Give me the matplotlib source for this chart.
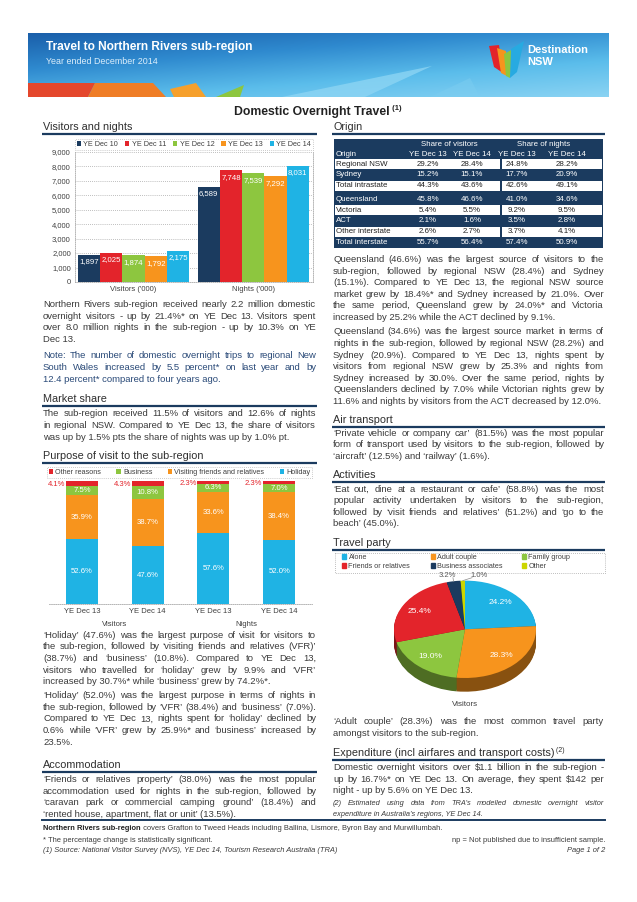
import matplotlib
matplotlib.use('Agg')
import matplotlib.pyplot as plt
import numpy as np
from matplotlib.patches import Rectangle, Polygon, Patch
from matplotlib.colors import LinearSegmentedColormap, to_rgb

plt.rcParams['font.family'] = ['Liberation Sans', 'DejaVu Sans']

# ---------------- data ----------------
years = ['YE Dec 10', 'YE Dec 11', 'YE Dec 12', 'YE Dec 13', 'YE Dec 14']
vn_groups = ["Visitors ('000)", "Nights ('000)"]
visitors_000 = [1897, 2025, 1874, 1792, 2175]
nights_000 = [6589, 7748, 7539, 7292, 8031]
vn_ticks = [0, 1000, 2000, 3000, 4000, 5000, 6000, 7000, 8000, 9000]

origin_names = ['Regional NSW', 'Sydney', 'Total intrastate', 'Queensland',
                'Victoria', 'ACT', 'Other interstate', 'Total interstate']
share_vis_13 = [29.2, 15.2, 44.3, 45.8, 5.4, 2.1, 2.6, 55.7]
share_vis_14 = [28.4, 15.1, 43.6, 46.6, 5.5, 1.6, 2.7, 56.4]
share_ngt_13 = [24.8, 17.7, 42.6, 41.0, 9.2, 3.5, 3.7, 57.4]
share_ngt_14 = [28.2, 20.9, 49.1, 34.6, 9.5, 2.8, 4.1, 50.9]
table_cols = ['YE Dec 13', 'YE Dec 14', 'YE Dec 13', 'YE Dec 14']

purpose_ticks = ['YE Dec 13', 'YE Dec 14', 'YE Dec 13', 'YE Dec 14']
purpose_groups = ['Visitors', 'Nights']
holiday = [52.6, 47.6, 57.6, 52.0]
vfr = [35.9, 38.7, 33.6, 38.4]
business = [7.5, 10.8, 6.3, 7.0]
other_reasons = [4.1, 4.3, 2.3, 2.3]

party_labels = ['Alone', 'Adult couple', 'Family group', 'Friends or relatives',
                'Business associates', 'Other']
party_share = [24.2, 28.3, 19.0, 25.4, 3.2, 1.0]

# ---------------- style ----------------
NAVY = '#1B3B5F'
RED = '#E3242B'
GREEN = '#8DC63F'
ORANGE = '#F7941D'
CYAN = '#1FB3E4'
LIME = '#CCD600'
TXT = '#3A3A3A'
HEAD = '#2E2E2E'
year_colors = [NAVY, RED, GREEN, ORANGE, CYAN]
party_colors = [CYAN, ORANGE, GREEN, RED, NAVY, LIME]

W, H = 637, 902
fig = plt.figure(figsize=(W / 100, H / 100), dpi=100)
page = fig.add_axes([0, 0, 1, 1], zorder=0)
page.set_xlim(0, W)
page.set_ylim(H, 0)
page.axis('off')
renderer = fig.canvas.get_renderer()


def ax_rect(x0, y0, x1, y1):
    return [x0 / W, 1 - y1 / H, (x1 - x0) / W, (y1 - y0) / H]


def measure(s, **kw):
    t = page.text(0, 0, s, **kw)
    w = t.get_window_extent(renderer).width
    t.remove()
    return w


def para(lines, x0, x1, y0, dy, fs, color=TXT, style='normal', justify=True):
    kw = dict(fontsize=fs, color=color, style=style, va='center', ha='left')
    width = x1 - x0
    for i, line in enumerate(lines):
        y = y0 + i * dy
        words = line.split(' ')
        if (not justify) or i == len(lines) - 1 or len(words) < 2:
            page.text(x0, y, line, **kw)
            continue
        wl = [measure(w, **kw) for w in words]
        gap = (width - sum(wl)) / (len(words) - 1)
        cx = x0
        for w, wd in zip(words, wl):
            page.text(cx, y, w, **kw)
            cx += wd + gap


def runs(x, y, parts, ha='left'):
    widths = [measure(s, **kw) for s, kw in parts]
    cx = x if ha == 'left' else x - sum(widths) / 2
    for (s, kw), wd in zip(parts, widths):
        page.text(cx, y, s, va=kw.pop('va', 'center'), ha='left', **kw)
        cx += wd


def heading(txt, x0, x1, y, uy, sup=None):
    if sup:
        runs(x0, y, [(txt, dict(fontsize=7.8, color=HEAD)),
                     (' ' + sup, dict(fontsize=5, color=HEAD, va='bottom'))])
    else:
        page.text(x0, y, txt, fontsize=7.8, color=HEAD, va='center', ha='left')
    page.plot([x0 - 1, x1 + 1], [uy, uy], color=NAVY, lw=1.6, solid_capstyle='butt')


def dotted_frame(leg):
    leg.get_frame().set_linestyle((0, (1, 1.5)))
    leg.get_frame().set_edgecolor('#A8A8A8')
    leg.get_frame().set_linewidth(0.6)


# ---------------- banner ----------------
u = np.linspace(0, 1, 200)[None, :]
v = np.linspace(0, 1, 60)[:, None]
grad = 0.65 * v + 0.45 * u
cmap = LinearSegmentedColormap.from_list('b', ['#1A5FAA', '#2F8ACF', '#5BBDEB', '#8AD3F3'])
page.imshow(grad, extent=[28, 609, 97, 33], cmap=cmap, aspect='auto', zorder=1,
            interpolation='bilinear', vmin=0, vmax=1.1)
page.set_xlim(0, W)
page.set_ylim(H, 0)
deco = [
    ([(28, 83), (95, 83), (88, 97), (28, 97)], '#E4472C', 1),
    ([(95, 83), (153, 83), (166, 97), (88, 97)], '#EF7D26', 1),
    ([(170, 89), (196, 83), (206, 97), (174, 97)], '#F6A02C', 1),
    ([(216, 97), (244, 85), (240, 97)], GREEN, 1),
    ([(282, 97), (432, 66), (365, 97)], '#8FD6F4', 0.75),
    ([(430, 97), (470, 78), (480, 97)], '#7CCDF0', 0.5),
]
for pts, col, al in deco:
    page.add_patch(Polygon(pts, closed=True, color=col, alpha=al, zorder=2, lw=0))
page.text(46, 47, 'Travel to Northern Rivers sub-region', fontsize=8.6, fontweight='bold',
          color='white', va='center', zorder=3)
page.text(46, 62, 'Year ended December 2014', fontsize=6.4, color='#DDEFFB', va='center', zorder=3)
logo = [
    ([(489, 46), (499, 45), (503, 73), (494, 67)], RED),
    ([(497, 48), (506, 51), (507, 76), (501, 73)], ORANGE),
    ([(504, 54), (513, 49), (510, 78), (506, 76)], GREEN),
    ([(511, 49), (524, 41), (517, 72), (510, 78)], '#27AAE1'),
]
for pts, col in logo:
    page.add_patch(Polygon(pts, closed=True, color=col, zorder=3, lw=0))
page.text(527, 50, 'Destination', fontsize=8, fontweight='bold', color='white', va='center', zorder=3)
page.text(527, 62, 'NSW', fontsize=8, fontweight='bold', color='white', va='center', zorder=3)

# ---------------- title ----------------
runs(318, 112, [('Domestic Overnight Travel', dict(fontsize=8.8, fontweight='bold', color='#222222')),
                (' (1)', dict(fontsize=5.5, fontweight='bold', color='#222222', va='bottom'))],
     ha='center')

LX0, LX1 = 43, 316
RX0, RX1 = 333, 604

# ---------------- texts ----------------
p1 = ["Northern Rivers sub-region received nearly 2.2 million domestic",
      "overnight visitors - up by 21.4%* on YE Dec 13. Visitors spent",
      "over 8.0 million nights in the sub-region - up by 10.3% on YE",
      "Dec 13."]
p_note = ["Note: The number of domestic overnight trips to regional New",
          "South Wales increased by 5.5 percent* on last year and by",
          "12.4 percent* compared to four years ago."]
p_ms = ["The sub-region received 11.5% of visitors and 12.6% of nights",
        "in regional NSW. Compared to YE Dec 13, the share of visitors",
        "was up by 1.5% pts the share of nights was up by 1.0% pt."]
p_hol1 = ["\u2018Holiday\u2019 (47.6%) was the largest purpose of visit for visitors to",
          "the sub-region, followed by \u2018visiting friends and relatives (VFR)\u2019",
          "(38.7%) and \u2018business\u2019 (10.8%). Compared to YE Dec 13,",
          "visitors who travelled for \u2018holiday\u2019 grew by 9.9% and \u2018VFR\u2019",
          "increased by 30.7%* while \u2018business\u2019 grew by 74.2%*."]
p_hol2 = ["\u2018Holiday\u2019 (52.0%) was the largest purpose in terms of nights in",
          "the sub-region, followed by \u2018VFR\u2019 (38.4%) and \u2018business\u2019 (7.0%).",
          "Compared to YE Dec 13, nights spent for \u2018holiday\u2019 declined by",
          "0.6% while \u2018VFR\u2019 grew by 25.9%* and \u2018business\u2019 increased by",
          "23.5%."]
p_acc = ["\u2018Friends or relatives property\u2019 (38.0%) was the most popular",
         "accommodation used for nights in the sub-region, followed by",
         "\u2018caravan park or commercial camping ground\u2019 (18.4%) and",
         "\u2018rented house, apartment, flat or unit\u2019 (13.5%)."]
p_q1 = ["Queensland (46.6%) was the largest source of visitors to the",
        "sub-region, followed by regional NSW (28.4%) and Sydney",
        "(15.1%). Compared to YE Dec 13, the regional NSW source",
        "market grew by 18.4%* and Sydney increased by 21.0%. Over",
        "the same period, Queensland grew by 24.0%* and Victoria",
        "increased by 25.2% while the ACT declined by 9.1%."]
p_q2 = ["Queensland (34.6%) was the largest source market in terms of",
        "nights in the sub-region, followed by regional NSW (28.2%) and",
        "Sydney (20.9%). Compared to YE Dec 13, nights spent by",
        "visitors from regional NSW grew by 25.3% and nights from",
        "Sydney increased by 30.0%. Over the same period, nights by",
        "Queenslanders declined by 7.0% while Victorian nights grew by",
        "11.6% and nights by visitors from the ACT decreased by 12.0%."]
p_air = ["\u2018Private vehicle or company car\u2019 (81.5%) was the most popular",
         "form of transport used by visitors to the sub-region, followed by",
         "\u2018aircraft\u2019 (12.5%) and \u2018railway\u2019 (1.6%)."]
p_act = ["\u2018Eat out, dine at a restaurant or cafe\u2019 (58.8%) was the most",
         "popular activity undertaken by visitors to the sub-region,",
         "followed by \u2018visit friends and relatives\u2019 (51.2%) and \u2018go to the",
         "beach\u2019 (45.0%)."]
p_party = ["\u2018Adult couple\u2019 (28.3%) was the most common travel party",
           "amongst visitors to the sub-region."]
p_exp = ["Domestic overnight visitors over $1.1 billion in the sub-region -",
         "up by 16.7%* on YE Dec 13. On average, they spent $142 per",
         "night - up by 5.6% on YE Dec 13."]
p_fn2 = ["(2) Estimated using data from TRA\u2019s modelled domestic overnight visitor",
         "expenditure in Australia\u2019s regions, YE Dec 14."]

# auto body font size so that widest justified line fits
ratios = []
for lines, w in [(p1, LX1 - LX0), (p_note, LX1 - LX0), (p_ms, LX1 - LX0), (p_hol1, LX1 - LX0),
                 (p_hol2, LX1 - LX0), (p_acc, LX1 - LX0), (p_q1, RX1 - RX0), (p_q2, RX1 - RX0),
                 (p_air, RX1 - RX0), (p_act, RX1 - RX0), (p_exp, RX1 - RX0)]:
    for ln in lines[:-1]:
        ratios.append(w / measure(ln, fontsize=7))
FS = float(np.clip(7 * min(ratios) * 0.985, 5.6, 7.2))
DY = 11.7

heading('Visitors and nights', LX0, LX1, 127, 134)
para(p1, LX0, LX1, 304.5, DY, FS)
para(p_note, LX0, LX1, 356, DY, FS, color='#2A4A78')
heading('Market share', LX0, LX1, 399.5, 405.5)
para(p_ms, LX0, LX1, 414, DY, FS)
heading('Purpose of visit to the sub-region', LX0, LX1, 456, 462.5)
para(p_hol1, LX0, LX1, 635, DY, FS)
para(p_hol2, LX0, LX1, 695.5, DY, FS)
heading('Accommodation', LX0, LX1, 765.5, 771.5)
para(p_acc, LX0, LX1, 779.5, DY, FS)

heading('Origin', RX0, RX1, 127, 134)
para(p_q1, RX0, RX1, 259.5, 11.6, FS)
para(p_q2, RX0, RX1, 332, 11.6, FS)
heading('Air transport', RX0, RX1, 420, 426.5)
para(p_air, RX0, RX1, 433, 11.6, FS)
heading('Activities', RX0, RX1, 475.5, 482)
para(p_act, RX0, RX1, 489, 11.6, FS)
heading('Travel party', RX0, RX1, 542.5, 550)
para(p_party, RX0, RX1, 722, 11.6, FS)
heading('Expenditure (incl airfares and transport costs)', RX0, RX1, 753.5, 760, sup='(2)')
para(p_exp, RX0, RX1, 767.5, 11.6, FS)
para(p_fn2, RX0, RX1, 803.5, 10.5, FS * 0.78, style='italic')

# bottom rule and footer
page.plot([LX0 - 1, RX1 + 1], [820, 820], color=NAVY, lw=1.4)
runs(LX0, 829, [('Northern Rivers sub-region', dict(fontsize=5.4, fontweight='bold', color='#222222')),
                (' covers Grafton to Tweed Heads including Ballina, Lismore, Byron Bay and Murwillumbah.',
                 dict(fontsize=5.4, color=TXT))])
page.text(LX0, 840, '* The percentage change is statistically significant.', fontsize=5.4,
          color=TXT, va='center')
page.text(RX1 + 1, 840, 'np = Not published due to insufficient sample.', fontsize=5.4,
          color=TXT, va='center', ha='right')
page.text(LX0, 851, '(1) Source: National Visitor Survey (NVS), YE Dec 14, Tourism Research Australia (TRA)',
          fontsize=5.4, color=TXT, va='center', style='italic')
page.text(RX1 + 1, 851, 'Page 1 of 2', fontsize=5.4, color=TXT, va='center', ha='right', style='italic')

# ---------------- origin table ----------------
TX0, TX1 = 334, 603
page.add_patch(Rectangle((TX0, 138.5), TX1 - TX0, 109.5, color=NAVY, lw=0, zorder=1))
col_x = [428, 472, 517, 567]
SEP = 501
TFS = 5.7
page.text(449, 144, 'Share of visitors', fontsize=TFS, color='white', ha='center', va='center', zorder=3)
page.text(544, 144, 'Share of nights', fontsize=TFS, color='white', ha='center', va='center', zorder=3)
page.text(336, 154, 'Origin', fontsize=TFS, color='white', ha='left', va='center', zorder=3)
for cx, lab in zip(col_x, table_cols):
    page.text(cx, 154, lab, fontsize=TFS, color='white', ha='center', va='center', zorder=3)
row_y = []
y = 164.3
for i in range(len(origin_names)):
    if i == 3:
        y += 3.6
    row_y.append(y)
    y += 10.6
cols = [share_vis_13, share_vis_14, share_ngt_13, share_ngt_14]
for i, name in enumerate(origin_names):
    yc = row_y[i]
    white = (i % 2 == 0)
    if white:
        page.add_patch(Rectangle((TX0 + 1, yc - 5.0), SEP - TX0 - 1.6, 10.0, color='white', lw=0, zorder=2))
        page.add_patch(Rectangle((SEP + 0.8, yc - 5.0), TX1 - SEP - 1.8, 10.0, color='white', lw=0, zorder=2))
    tc = '#222222' if white else 'white'
    page.text(336, yc, name, fontsize=TFS, color=tc, ha='left', va='center', zorder=3)
    for cx, colv in zip(col_x, cols):
        page.text(cx, yc, f'{colv[i]:.1f}%', fontsize=TFS, color=tc, ha='center', va='center', zorder=3)

# ---------------- visitors & nights bar chart ----------------
ax1 = fig.add_axes(ax_rect(75, 151.7, 313, 282), zorder=2)
xg = np.arange(len(vn_groups))
bw = 0.186
for k, yr in enumerate(years):
    vals = [visitors_000[k], nights_000[k]]
    pos = xg + (k - 2) * bw
    ax1.bar(pos, vals, bw, color=year_colors[k], label=yr, zorder=3, lw=0)
    for p, val in zip(pos, vals):
        ax1.annotate(f'{val:,}', (p, val), xytext=(0, -5.2), textcoords='offset points',
                     ha='center', va='center', color='white', fontsize=5.6, zorder=4)
ax1.set_xlim(-0.49, 1.5)
ax1.set_ylim(0, 9000)
ax1.set_yticks(vn_ticks)
ax1.set_yticklabels([f'{t:,}' for t in vn_ticks])
ax1.set_xticks(xg)
ax1.set_xticklabels(vn_groups)
ax1.tick_params(length=0, labelsize=5.5, colors='#404040', pad=3)
ax1.grid(axis='y', ls=(0, (1, 1.5)), color='#A8A8A8', lw=0.6, zorder=0)
ax1.set_axisbelow(True)
for s in ['left', 'right', 'bottom']:
    ax1.spines[s].set_linestyle((0, (1, 1.5)))
    ax1.spines[s].set_color('#A8A8A8')
    ax1.spines[s].set_linewidth(0.6)
ax1.spines['top'].set_visible(False)
leg1 = ax1.legend(loc='center', bbox_to_anchor=(0, 1.012, 1, 0.09), mode='expand', ncol=5,
                  fontsize=5.2, handlelength=0.6, handleheight=0.6, handletextpad=0.3,
                  borderpad=0.25, borderaxespad=0, frameon=True, fancybox=False, labelcolor='#404040')
dotted_frame(leg1)

# ---------------- purpose stacked bar chart ----------------
ax2 = fig.add_axes(ax_rect(49, 481, 312, 604), zorder=2)
xs = np.arange(len(purpose_ticks))
tot = np.array(holiday) + np.array(vfr) + np.array(business) + np.array(other_reasons)
bottom = np.zeros(len(xs))
pbw = 0.49
stack = [('Holiday', holiday, CYAN), ('Visiting friends and relatives', vfr, ORANGE),
         ('Business', business, GREEN), ('Other reasons', other_reasons, RED)]
handles = []
for name, vals, col in stack:
    hgt = np.array(vals) / tot * 100
    b = ax2.bar(xs, hgt, pbw, bottom=bottom, color=col, label=name, lw=0, zorder=3)
    handles.append(b)
    for xi, hv, bv, raw in zip(xs, hgt, bottom, vals):
        if name == 'Other reasons':
            ax2.text(xi - pbw / 2 - 0.01, bv + hv / 2 - 0.6, f'{raw:.1f}%', color=RED, fontsize=5.5,
                     ha='right', va='center', zorder=4)
        else:
            ax2.text(xi, bv + hv / 2, f'{raw:.1f}%', color='white', fontsize=5.6,
                     ha='center', va='center', zorder=4)
    bottom = bottom + hgt
ax2.set_xlim(-0.5, 3.5)
ax2.set_ylim(0, 100)
ax2.set_yticks([])
ax2.set_xticks(xs)
ax2.set_xticklabels(purpose_ticks)
ax2.tick_params(length=0, labelsize=5.5, colors='#404040', pad=3)
for s in ['left', 'right', 'top']:
    ax2.spines[s].set_visible(False)
ax2.spines['bottom'].set_linestyle((0, (1, 1.5)))
ax2.spines['bottom'].set_color('#A8A8A8')
ax2.spines['bottom'].set_linewidth(0.6)
leg2 = ax2.legend(handles[::-1], [s[0] for s in stack][::-1], loc='center',
                  bbox_to_anchor=(-0.008, 1.018, 1.008, 0.1), mode='expand', ncol=4,
                  fontsize=5.2, handlelength=0.6, handleheight=0.6, handletextpad=0.3,
                  borderpad=0.25, borderaxespad=0, frameon=True, fancybox=False, labelcolor='#404040')
dotted_frame(leg2)
for gi, g in enumerate(purpose_groups):
    gx = ax2.transData.transform((2 * gi + 0.5, 0))
    page.text(gx[0], 624, g, fontsize=5.5, color='#404040', ha='center', va='center')

# ---------------- travel party 3D-like pie ----------------
cx, cy, rx, ry, depth = 465, 629.3, 71, 48.7, 13.7
ax3 = fig.add_axes(ax_rect(cx - rx, cy - ry, cx + rx, cy + ry + depth), zorder=2)
dd = depth / ry
dark = [tuple(np.array(to_rgb(c)) * 0.55) for c in party_colors]
nl = 16
for off in np.linspace(-dd, -dd / nl, nl):
    ax3.pie(party_share, colors=dark, startangle=90, counterclock=False, center=(0, off),
            wedgeprops=dict(linewidth=0))
wedges, _ = ax3.pie(party_share, colors=party_colors, startangle=90, counterclock=False,
                    wedgeprops=dict(linewidth=0))
ax3.set_aspect('auto')
ax3.set_xlim(-1, 1)
ax3.set_ylim(-1 - dd, 1)
ax3.axis('off')
small_pos = {4: (-0.25, 1.11), 5: (0.2, 1.11)}
for i, (wdg, val) in enumerate(zip(wedges, party_share)):
    mid = np.deg2rad((wdg.theta1 + wdg.theta2) / 2)
    if i in small_pos:
        lx, ly = small_pos[i]
        ex, ey = np.cos(mid), np.sin(mid)
        ax3.plot([ex, lx + (0.08 if lx < 0 else -0.1)], [ey, ly - 0.05], color='#8C8C8C', lw=0.5,
                 clip_on=False)
        ax3.text(lx, ly, f'{val:.1f}%', fontsize=5.5, color='#595959', ha='center', va='center',
                 clip_on=False)
    else:
        ax3.text(0.74 * np.cos(mid), 0.74 * np.sin(mid), f'{val:.1f}%', fontsize=6,
                 color='white', ha='center', va='center')
# legend: three columns, two rows, in a dotted frame
page.add_patch(Rectangle((335, 553), 270, 19.5, fill=False, edgecolor='#A8A8A8', lw=0.6,
                         ls=(0, (1, 1.5)), zorder=1))
col_left = [342, 430.5, 522]
for c in range(3):
    idx = [c, c + 3]
    lg = fig.legend([Patch(color=party_colors[i]) for i in idx], [party_labels[i] for i in idx],
                    loc='upper left', bbox_to_anchor=(col_left[c] / W, 1 - 554 / H), ncol=1,
                    fontsize=5.2, handlelength=0.6, handleheight=0.6, handletextpad=0.3,
                    borderpad=0, borderaxespad=0, labelspacing=0.25, frameon=False,
                    labelcolor='#404040')
page.text(cx, 705, 'Visitors', fontsize=5.8, color='#404040', ha='center', va='center')

fig.savefig('out.png', dpi=100)
